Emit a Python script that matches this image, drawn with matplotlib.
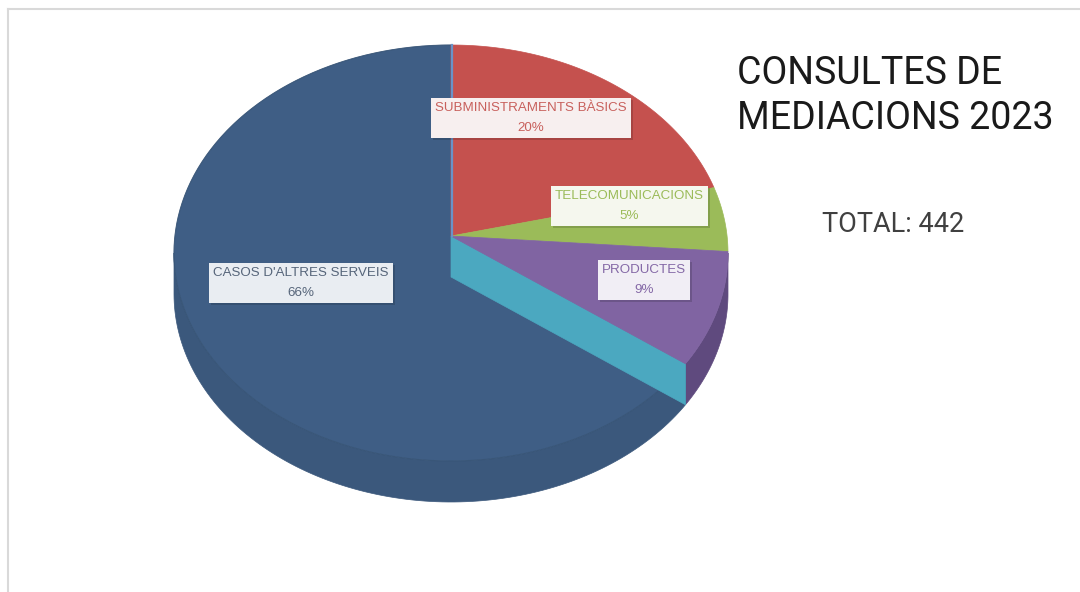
import numpy as np
import matplotlib
matplotlib.use("Agg")
import matplotlib.pyplot as plt
from matplotlib.patches import Polygon

# ---- data ----
categories = ["SUBMINISTRAMENTS BÀSICS", "TELECOMUNICACIONS", "PRODUCTES", "CASOS D'ALTRES SERVEIS"]
counts = [88, 22, 40, 292]
title_lines = ["CONSULTES DE", "MEDIACIONS 2023"]
total_label = "TOTAL: 442"

# ---- style ----
top_colors = ["#C5514E", "#9BBB59", "#8064A2", "#3F5E85"]
wall_colors = ["#9E3E3B", "#748C3F", "#5F4A7E", "#3B587C"]
text_colors = ["#C8605C", "#9BBB59", "#8468A6", "#56657A"]
box_colors = ["#F7EFEF", "#F5F7EE", "#F1EEF5", "#E9EDF2"]
label_pos = [(531, 118), (629, 206), (644, 280), (301, 283)]
aqua = "#4BA8C0"
thin_blue = "#6A93C8"

cx, cy, rx, ry = 451, 253, 277, 208
apex = (451, 236)
depth = 41

fig = plt.figure(figsize=(10.8, 5.92), dpi=100)
ax = fig.add_axes([0, 0, 1, 1])
ax.set_xlim(0, 1080)
ax.set_ylim(592, 0)
ax.axis("off")

vals = np.array(counts, dtype=float)
frac = vals / vals.sum()
ends = np.cumsum(frac) * 360.0
starts = ends - frac * 360.0


def arc(a0, a1, n=120):
    a = np.radians(np.linspace(a0, a1, n))
    return cx + rx * np.sin(a), cy - ry * np.cos(a)


# outer walls (front half)
for s, e, wc in zip(starts, ends, wall_colors):
    lo, hi = max(s, 90), min(e, 270)
    if lo < hi:
        x, y = arc(lo, hi)
        pts = np.column_stack([np.concatenate([x, x[::-1]]),
                               np.concatenate([y, y[::-1] + depth])])
        ax.add_patch(Polygon(pts, closed=True, facecolor=wc, edgecolor=wc, lw=0.5, zorder=1))

# top faces - big slice first
order = [3, 0, 1, 2]
for i in order:
    x, y = arc(starts[i], ends[i])
    pts = np.column_stack([np.concatenate([[apex[0]], x]), np.concatenate([[apex[1]], y])])
    ax.add_patch(Polygon(pts, closed=True, facecolor=top_colors[i],
                         edgecolor=top_colors[i], lw=0.5, zorder=2 if i == 3 else 4))

# radial wall of the empty slice between PRODUCTES and CASOS
b = ends[2]
bx, by = arc(b, b, 1)
wall = np.array([[apex[0], apex[1]], [bx[0], by[0]], [bx[0], by[0] + depth], [apex[0], apex[1] + depth]])
ax.add_patch(Polygon(wall, closed=True, facecolor=aqua, edgecolor=aqua, lw=0.5, zorder=3))

# thin empty slice at 12 o'clock
tx, ty = arc(0, 0, 1)
ax.plot([apex[0] + 1, tx[0] + 1], [apex[1], ty[0]], color=thin_blue, lw=1.6, zorder=5)

# faint rim line on top face of big slice
x, y = arc(starts[3], ends[3], 200)
ax.plot(x, y, color="#34506F", lw=0.8, alpha=0.6, zorder=2.5)

# labels
for i, (name, (lx, ly)) in enumerate(zip(categories, label_pos)):
    pct = f"{round(frac[i] * 100):d}%"
    s = f"{name}\n{pct}"
    kw = dict(ha="center", va="center", fontsize=9.6, family="Liberation Sans",
              linespacing=1.9, zorder=7)
    ax.text(lx + 2, ly + 2, s, color="none",
            bbox=dict(boxstyle="square,pad=0.3", facecolor="#000000", alpha=0.15, edgecolor="none"),
            **{**kw, "zorder": 6})
    ax.text(lx, ly, s, color=text_colors[i],
            bbox=dict(boxstyle="square,pad=0.3", facecolor=box_colors[i], edgecolor="none"),
            **kw)

# title and total
for k, (line, yb) in enumerate(zip(title_lines, [84, 129])):
    ax.text(737, yb, line, ha="left", va="baseline", fontsize=27, family="Roboto",
            fontweight="normal", color="#1a1a1a")
ax.text(822, 232, total_label, ha="left", va="baseline", fontsize=19.5, family="Roboto",
        fontweight="normal", color="#404040")

# frame
ax.plot([8, 8], [9, 592], color="#D9D9D9", lw=1.5)
ax.plot([8, 1080], [9, 9], color="#D9D9D9", lw=1.5)

fig.savefig("out.png", dpi=100, facecolor="white")
